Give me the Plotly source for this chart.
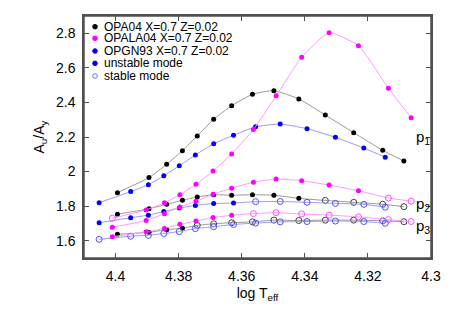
import plotly.graph_objects as go

# ---------------- data ----------------
# OPA04 X=0.7 Z=0.02 (black)
opa_logT = [4.3994, 4.3894, 4.3838, 4.3788, 4.3741, 4.3689, 4.3632, 4.3566,
            4.3498, 4.3419, 4.3335, 4.3245, 4.3153, 4.3086]
opa_p1 = [1.878, 1.965, 2.042, 2.121, 2.206, 2.302, 2.381, 2.447,
          2.468, 2.420, 2.327, 2.225, 2.123, 2.061]
opa_p2 = [1.753, 1.785, 1.811, 1.834, 1.853, 1.866, 1.863, 1.866,
          1.863, 1.845, 1.833, 1.822, 1.811, 1.797]
opa_p3 = [1.637, 1.649, 1.664, 1.672, 1.689, 1.698, 1.704, 1.709,
          1.719, 1.717, 1.719, 1.719, 1.715, 1.710]
opa_p1_unstable = [1] * 14
opa_p2_unstable = [1, 1, 1, 1, 1, 1, 1, 1, 1, 1, 0, 0, 0, 0]
opa_p3_unstable = [1, 1, 1, 1, 0, 0, 0, 0, 0, 0, 0, 0, 0, 0]

# OPALA04 X=0.7 Z=0.02 (magenta)
opala_logT = [4.4010, 4.3903, 4.3845, 4.3796, 4.3745, 4.3691, 4.3632, 4.3563,
              4.3491, 4.3410, 4.3323, 4.3230, 4.3135, 4.3063]
opala_p1 = [1.730, 1.778, 1.819, 1.866, 1.926, 2.003, 2.102, 2.243,
            2.438, 2.661, 2.803, 2.728, 2.482, 2.312]
opala_p2 = [1.678, 1.717, 1.756, 1.795, 1.828, 1.869, 1.904, 1.938,
            1.957, 1.947, 1.922, 1.889, 1.847, 1.829]
opala_p3 = [1.623, 1.652, 1.671, 1.695, 1.714, 1.734, 1.747, 1.757,
            1.762, 1.755, 1.748, 1.738, 1.722, 1.711]
opala_p1_unstable = [0, 1, 1, 1, 1, 1, 1, 1, 1, 1, 1, 1, 1, 1]
opala_p2_unstable = [1, 1, 1, 1, 1, 1, 1, 1, 1, 1, 1, 1, 0, 0]
opala_p3_unstable = [1, 1, 1, 1, 1, 1, 1, 0, 0, 0, 0, 0, 0, 0]

# OPGN93 X=0.7 Z=0.02 (blue)
opgn_logT = [4.4052, 4.3952, 4.3896, 4.3847, 4.3798, 4.3747, 4.3689, 4.3626,
             4.3556, 4.3478, 4.3393, 4.3303, 4.3213, 4.3145]
opgn_p1 = [1.820, 1.884, 1.924, 1.976, 2.033, 2.096, 2.161, 2.210,
           2.259, 2.275, 2.248, 2.198, 2.136, 2.083]
opgn_p2 = [1.704, 1.733, 1.748, 1.769, 1.789, 1.804, 1.815, 1.818,
           1.826, 1.827, 1.822, 1.816, 1.810, 1.794]
opgn_p3 = [1.608, 1.626, 1.631, 1.642, 1.653, 1.670, 1.681, 1.694,
           1.702, 1.709, 1.711, 1.714, 1.711, 1.701]
opgn_p1_unstable = [1] * 14
opgn_p2_unstable = [1, 1, 1, 1, 1, 1, 1, 1, 0, 0, 0, 0, 0, 0]
opgn_p3_unstable = [0] * 14

legend_labels = ["OPA04 X=0.7 Z=0.02", "OPALA04 X=0.7 Z=0.02",
                 "OPGN93 X=0.7 Z=0.02", "unstable mode", "stable mode"]
mode_labels = ["p<sub>1</sub>", "p<sub>2</sub>", "p<sub>3</sub>"]
mode_label_y = [2.20, 1.812, 1.685]
x_ticks = [4.4, 4.38, 4.36, 4.34, 4.32, 4.3]
x_ticktext = ["4.4", "4.38", "4.36", "4.34", "4.32", "4.3"]
y_ticks = [1.6, 1.8, 2.0, 2.2, 2.4, 2.6, 2.8]
y_ticktext = ["1.6", "1.8", "2", "2.2", "2.4", "2.6", "2.8"]

# ---------------- styling ----------------
FONT = "Liberation Sans, Arial, Helvetica, sans-serif"
FRAME = "#505050"
models = [
    (opa_logT, [(opa_p1, opa_p1_unstable), (opa_p2, opa_p2_unstable), (opa_p3, opa_p3_unstable)],
     "#000000", "#9a9a9a", "#404040"),
    (opgn_logT, [(opgn_p1, opgn_p1_unstable), (opgn_p2, opgn_p2_unstable), (opgn_p3, opgn_p3_unstable)],
     "#0000ff", "#9999ff", "#5050ff"),
    (opala_logT, [(opala_p1, opala_p1_unstable), (opala_p2, opala_p2_unstable), (opala_p3, opala_p3_unstable)],
     "#ff00ff", "#ff99ff", "#ff50ff"),
]

fig = go.Figure()
for xs, curves, mcol, lcol, ocol in models:
    for ys, flags in curves:
        fig.add_trace(go.Scatter(x=xs, y=ys, mode="lines",
                                 line=dict(color=lcol, width=1, shape="spline", smoothing=0.5),
                                 showlegend=False, hoverinfo="skip"))
        fig.add_trace(go.Scatter(
            x=[x for x, f in zip(xs, flags) if f],
            y=[y for y, f in zip(ys, flags) if f],
            mode="markers", marker=dict(symbol="circle", size=5, color=mcol),
            showlegend=False))
        fig.add_trace(go.Scatter(
            x=[x for x, f in zip(xs, flags) if not f],
            y=[y for y, f in zip(ys, flags) if not f],
            mode="markers",
            marker=dict(symbol="circle-open", size=6, color=ocol, line=dict(width=1, color=ocol)),
            showlegend=False))

# ---------------- layout ----------------
L, R, T, B = 84, 21, 16, 58
W, H = 452, 316
pw, ph = W - L - R, H - T - B

axis_common = dict(showline=True, linecolor=FRAME, linewidth=1.5, mirror="allticks",
                   ticks="inside", ticklen=5, tickcolor=FRAME, tickwidth=1, showgrid=False,
                   zeroline=False, tickfont=dict(family=FONT, size=14, color="#000"))

fig.update_layout(
    width=W, height=H,
    margin=dict(l=L, r=R, t=T, b=B, autoexpand=False),
    paper_bgcolor="white", plot_bgcolor="white",
    font=dict(family=FONT, size=14, color="#000"),
    showlegend=False,
    xaxis=dict(range=[4.41, 4.3], tickmode="array", tickvals=x_ticks, ticktext=x_ticktext,
               ticklabelstandoff=4,
               title=dict(text="log T<sub>eff</sub>", font=dict(family=FONT, size=14), standoff=6),
               **axis_common),
    yaxis=dict(range=[1.5, 2.9], tickmode="array", tickvals=y_ticks, ticktext=y_ticktext,
               ticklabelstandoff=4,
               title=dict(text="A<sub>u</sub>/A<sub>y</sub>", font=dict(family=FONT, size=14), standoff=8),
               **axis_common),
)

# plot frame (explicit lines on the four sides)
for (x0, y0, x1, y1) in [(0, 1, 1, 1), (1, 0, 1, 1), (0, 0, 1, 0), (0, 0, 0, 1)]:
    fig.add_shape(type="line", xref="paper", yref="paper", x0=x0, y0=y0, x1=x1, y1=y1,
                  line=dict(color=FRAME, width=1.5), layer="above")

# mode labels p1, p2, p3
for lab, yv in zip(mode_labels, mode_label_y):
    fig.add_annotation(x=4.3055, y=yv, xref="x", yref="y", text=lab, showarrow=False,
                       xanchor="left", yanchor="middle", font=dict(family=FONT, size=15, color="#000"))

# legend (drawn manually to match the tight row spacing)
row_px = [26.7, 38.3, 51.0, 63.3, 76.0]
leg_marker_cols = ["#000000", "#ff00ff", "#0000ff", "#0000ff", "#7070ff"]
leg_open = [False, False, False, False, True]
mx = (95 - L) / pw
tx = (103 - L) / pw
for lab, rp, col, op in zip(legend_labels, row_px, leg_marker_cols, leg_open):
    yp = (H - B - rp) / ph
    fig.add_annotation(x=tx, y=yp, xref="paper", yref="paper", text=lab, showarrow=False,
                       xanchor="left", yanchor="middle", height=12, borderpad=0,
                       font=dict(family=FONT, size=12, color="#000"))
    fig.add_shape(type="circle", xref="paper", yref="paper", xsizemode="pixel", ysizemode="pixel",
                  xanchor=mx, yanchor=yp, x0=-2.3, x1=2.3, y0=-2.3, y1=2.3,
                  fillcolor=("rgba(0,0,0,0)" if op else col), line=dict(color=col, width=1))

fig.write_html("out.html", config={"displayModeBar": False},
               post_script="document.body.style.margin='0';document.body.style.overflow='hidden';")
